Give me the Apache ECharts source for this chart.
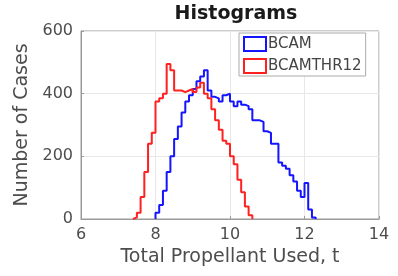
<!DOCTYPE html>
<html>
  <head>
    <meta charset="utf-8" />
    <title></title>
    <style>
      body {
        margin: 0;
        padding: 0;
        background: #fff;
      }
      #chart {
        width: 398px;
        height: 276px;
      }
    </style>
    <script src="https://cdn.jsdelivr.net/npm/echarts@6/dist/echarts.min.js"></script>
  </head>
  <body>
    <div id="chart"></div>
  </body>
  <script>
    // histogram bin edges and counts
    const blueName = "BCAM";
    const blueEdges = [
      8.0, 8.1, 8.2, 8.3, 8.4, 8.5, 8.6, 8.7, 8.8, 8.9, 9.0, 9.1, 9.2, 9.3, 9.4,
      9.5, 9.6, 9.7, 9.8, 9.9, 10.0, 10.1, 10.2, 10.3, 10.4, 10.5, 10.6, 10.7,
      10.8, 10.9, 11.0, 11.1, 11.2, 11.3, 11.4, 11.5, 11.6, 11.7, 11.8, 11.9,
      12.0, 12.1, 12.2, 12.3,
    ];
    const blueCounts = [
      20, 45, 90, 150, 200, 255, 295, 340, 375, 395, 415, 440, 455, 475, 410,
      390, 385, 375, 395, 400, 375, 360, 375, 365, 360, 350, 315, 315, 310, 280,
      275, 240, 240, 180, 170, 160, 140, 120, 90, 70, 115, 30, 5,
    ];

    const redName = "BCAMTHR12";
    const redEdges = [
      7.4, 7.5, 7.6, 7.7, 7.8, 7.9, 8.0, 8.1, 8.2, 8.3, 8.4, 8.5, 8.6, 8.7, 8.8,
      8.9, 9.0, 9.1, 9.2, 9.3, 9.4, 9.5, 9.6, 9.7, 9.8, 9.9, 10.0, 10.1, 10.2,
      10.3, 10.4, 10.5, 10.6,
    ];
    const redCounts = [
      5, 20, 70, 150, 240, 275, 375, 385, 400, 495, 475, 410, 410, 405, 410,
      415, 405, 420, 435, 400, 385, 350, 315, 285, 250, 240, 200, 175, 125, 85,
      40, 12,
    ];

    const xTicks = [6, 8, 10, 12, 14];
    const yTicks = [0, 200, 400, 600];

    // outline of a histogram: up at the first edge, across each bin, down at the last
    function stairs(edges, counts) {
      let pts = [[edges[0], 0]];
      counts.forEach((c, i) => pts.push([edges[i + 1], c]));
      pts.push([edges[edges.length - 1], 0]);
      return pts;
    }

    const font = "DejaVu Sans";
    const grey = "#4d4d4d";

    function series(name, edges, counts, color) {
      return {
        name: name,
        type: "line",
        step: "start",
        symbol: "none",
        animation: false,
        lineStyle: { color: color, width: 2 },
        itemStyle: { color: "#fff", borderColor: color, borderWidth: 2 },
        data: stairs(edges, counts),
      };
    }

    const option = {
      backgroundColor: "#fff",
      animation: false,
      title: {
        text: "Histograms",
        left: 231,
        textAlign: "center",
        top: 0,
        textStyle: {
          fontFamily: font,
          fontSize: 19,
          fontWeight: "bold",
          color: "#1a1a1a",
        },
      },
      grid: {
        left: 81,
        right: 19,
        top: 31,
        bottom: 57,
        show: true,
        borderColor: "#9a9a9a",
        borderWidth: 1,
      },
      legend: {
        orient: "vertical",
        left: 239,
        top: 33,
        padding: [3, 4, 2, 4],
        itemGap: 6,
        itemWidth: 22,
        itemHeight: 14,
        icon: "rect",
        backgroundColor: "#fff",
        borderColor: "#aaa",
        borderWidth: 1,
        textStyle: { fontFamily: font, fontSize: 15, color: "#444", padding: [0, 0, 0, -3] },
        data: [blueName, redName],
      },
      xAxis: {
        type: "value",
        min: xTicks[0],
        max: xTicks[xTicks.length - 1],
        interval: xTicks[1] - xTicks[0],
        name: "Total Propellant Used, t",
        nameLocation: "middle",
        nameGap: 26,
        nameTextStyle: { fontFamily: font, fontSize: 19, color: grey },
        axisLine: { show: true, lineStyle: { color: "#9a9a9a" } },
        axisTick: { show: true, inside: true, length: 3, lineStyle: { color: "#9a9a9a" } },
        axisLabel: { fontFamily: font, fontSize: 16, color: grey, margin: 8 },
        splitLine: { show: true, lineStyle: { color: "#e8e8e8" } },
      },
      yAxis: {
        type: "value",
        min: yTicks[0],
        max: yTicks[yTicks.length - 1],
        interval: yTicks[1] - yTicks[0],
        name: "Number of Cases",
        nameLocation: "middle",
        nameGap: 47,
        nameTextStyle: { fontFamily: font, fontSize: 19, color: grey },
        axisLine: { show: true, lineStyle: { color: "#9a9a9a" } },
        axisTick: { show: true, inside: true, length: 3, lineStyle: { color: "#9a9a9a" } },
        axisLabel: { fontFamily: font, fontSize: 16, color: grey, margin: 8 },
        splitLine: { show: true, lineStyle: { color: "#e8e8e8" } },
      },
      series: [
        series(blueName, blueEdges, blueCounts, "#1414ff"),
        series(redName, redEdges, redCounts, "#ff2020"),
      ],
    };

    let myChart = echarts.init(document.getElementById("chart"));
    myChart.setOption(option);
  </script>
</html>
